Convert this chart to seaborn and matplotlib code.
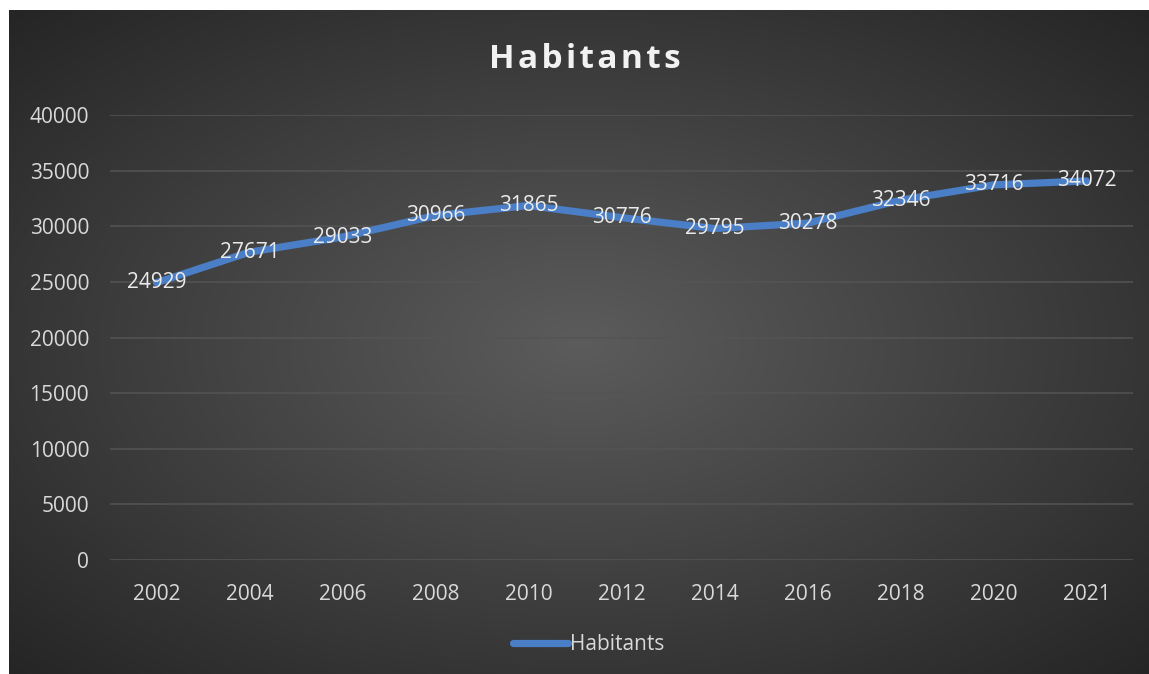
import numpy as np
import pandas as pd
import matplotlib.pyplot as plt
import seaborn as sns

# données
annees = ['2002', '2004', '2006', '2008', '2010', '2012', '2014', '2016', '2018', '2020', '2021']
habitants = [24929, 27671, 29033, 30966, 31865, 30776, 29795, 30278, 32346, 33716, 34072]
yticks = [0, 5000, 10000, 15000, 20000, 25000, 30000, 35000, 40000]

df = pd.DataFrame({'annee': annees, 'Habitants': habitants})

sns.set_theme(style="dark")
plt.rcParams['font.family'] = ['Open Sans', 'DejaVu Sans']

W, H = 1149, 674
fig = plt.figure(figsize=(W / 100, H / 100), dpi=100)
fig.patch.set_facecolor('white')

# fond dégradé radial
bg = fig.add_axes([9 / W, 0, 1 - 9 / W, 1 - 10 / H])
bg.set_axis_off()
yy, xx = np.mgrid[0:200, 0:340]
d = np.sqrt(((xx - 170) / 170) ** 2 + ((yy - 100) / 100) ** 2) / np.sqrt(2)
v = 0.36 - (0.36 - 0.145) * d
img = np.dstack([v, v, v])
bg.imshow(img, aspect='auto', extent=[0, 1, 0, 1], interpolation='bilinear')

ax = fig.add_axes([110 / W, 1 - 560 / H, (1133 - 110) / W, (560 - 115) / H])
ax.patch.set_alpha(0)
sns.lineplot(data=df, x='annee', y='Habitants', ax=ax, color='#4A7EC6', lw=5.2,
             sort=False, label='Habitants', solid_joinstyle='round', solid_capstyle='round')

for i, val in enumerate(habitants):
    ax.text(i, val, str(val), ha='center', va='center', color='#EBEBEB', fontsize=15)

ax.set_xlim(-0.5, len(annees) - 0.5)
ax.set_ylim(0, 40000)
ax.set_yticks(yticks)
ax.set_yticklabels([str(t) for t in yticks])
ax.grid(axis='y', color='#545454', lw=1.1)
ax.grid(axis='x', visible=False)
for s in ax.spines.values():
    s.set_visible(False)
ax.tick_params(axis='both', colors='#D9D9D9', labelsize=15, length=0)
ax.tick_params(axis='y', pad=15)
ax.tick_params(axis='x', pad=17)
ax.set_xlabel('')
ax.set_ylabel('')

fig.text(585 / W, 1 - 60 / H, '\u200a'.join('Habitants'), ha='center', va='center',
         fontsize=24, fontweight='bold', color='#F2F2F2')

leg = ax.legend(loc='center', bbox_to_anchor=(0.468, (560 - 645) / (560 - 115)), frameon=False,
                fontsize=15, handlelength=2.6, handletextpad=0.1, labelcolor='#D9D9D9')

fig.savefig('out.png', dpi=100, facecolor='white')
